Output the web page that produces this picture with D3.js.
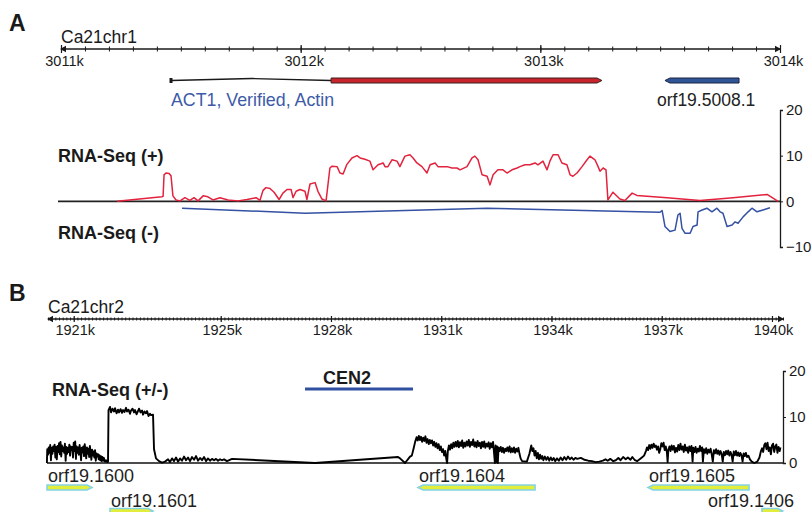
<!DOCTYPE html>
<html><head><meta charset="utf-8">
<script src="https://cdn.jsdelivr.net/npm/d3@7"></script>
<style>
body{margin:0;background:#fff}
svg{display:block;font-family:"Liberation Sans",Arial,Helvetica,sans-serif}
</style></head><body>
<svg id="c" width="812" height="512"></svg>
<script>
// ---------------- Panel A data ----------------
const chromA = "Ca21chr1";
const domainA = [3011000, 3014000];
const majorTicksA = [3011000, 3012000, 3013000, 3014000];
const yTicksA = [-10, 0, 10, 20];
const act1 = {name: "ACT1, Verified, Actin", capStart: 3011459, intronPeak: 3011797, exonStart: 3012127, exonEnd: 3013257};
const orf5008 = {name: "orf19.5008.1", start: 3013520, end: 3013829};
// RNA-Seq (+) coverage: [position bp, value]
const rnaPlus = [[3011234,0],[3011421,1.0],[3011426,1.1],[3011430,5.8],[3011438,6.2],[3011451,6.1],[3011459,5.6],[3011467,1.2],[3011480,0.3],[3011497,0.1],[3011517,0.8],[3011538,0.2],[3011555,0.8],[3011572,0.1],[3011593,1.2],[3011613,1.0],[3011634,0.3],[3011663,0.8],[3011697,0.3],[3011739,0.1],[3011776,0.4],[3011814,0.8],[3011830,0.2],[3011843,2.4],[3011855,3.0],[3011872,2.8],[3011889,2.0],[3011910,0.4],[3011926,1.8],[3011943,2.6],[3011960,2.6],[3011968,0.8],[3011981,2.2],[3011997,2.6],[3012018,2.2],[3012026,0.4],[3012039,3.8],[3012060,4.1],[3012072,2.2],[3012089,0.5],[3012106,0.1],[3012122,7.3],[3012131,7.7],[3012152,7.6],[3012164,6.2],[3012177,6.0],[3012193,8.1],[3012214,9.5],[3012235,10.0],[3012248,9.5],[3012268,9.2],[3012289,8.8],[3012302,6.9],[3012323,8.0],[3012344,8.4],[3012352,7.6],[3012364,7.6],[3012381,9.1],[3012402,8.8],[3012414,7.6],[3012435,9.9],[3012456,10.2],[3012469,9.5],[3012485,8.4],[3012506,7.6],[3012527,6.2],[3012540,8.0],[3012561,8.4],[3012573,7.6],[3012611,7.6],[3012631,7.3],[3012652,7.3],[3012665,6.9],[3012694,7.6],[3012715,9.5],[3012727,9.9],[3012740,9.1],[3012757,5.8],[3012778,5.5],[3012790,3.6],[3012803,5.8],[3012823,6.9],[3012844,6.9],[3012861,6.2],[3012882,6.9],[3012903,7.3],[3012915,7.6],[3012936,8.0],[3012957,8.0],[3012978,8.4],[3012990,8.0],[3013011,8.8],[3013028,6.9],[3013040,8.8],[3013053,10.2],[3013074,10.2],[3013090,8.4],[3013111,8.0],[3013124,5.8],[3013136,5.5],[3013153,6.2],[3013174,7.6],[3013195,9.1],[3013207,9.9],[3013228,9.1],[3013241,7.6],[3013249,6.6],[3013262,7.3],[3013274,6.9],[3013282,0.3],[3013303,2.0],[3013332,0.5],[3013353,0.2],[3013383,1.8],[3013403,1.3],[3013529,0.8],[3013666,0.2],[3013804,0.8],[3013946,1.5],[3013971,0.7],[3013992,0.0]];
// RNA-Seq (-) coverage
const rnaMinus = [[3011505,-1.5],[3012018,-2.6],[3012778,-1.5],[3013499,-2.4],[3013508,-2.0],[3013520,-5.5],[3013541,-6.6],[3013562,-6.3],[3013574,-3.0],[3013583,-2.6],[3013591,-5.9],[3013604,-7.0],[3013625,-7.0],[3013637,-5.5],[3013654,-5.2],[3013658,-2.3],[3013675,-1.9],[3013695,-1.5],[3013716,-2.3],[3013737,-1.5],[3013750,-2.3],[3013762,-2.6],[3013779,-5.5],[3013800,-5.2],[3013812,-4.5],[3013825,-4.8],[3013846,-3.4],[3013867,-2.3],[3013883,-1.5],[3013904,-2.3],[3013929,-1.9],[3013958,-1.4]];

// ---------------- Panel B data (positions in kb) ----------------
const chromB = "Ca21chr2";
const domainB = [1920.3, 1940.3];
const majorTicksB = [1921, 1925, 1928, 1931, 1934, 1937, 1940];
const yTicksB = [0, 10, 20];
const cen2 = {name: "CEN2", start: 1927.294, end: 1930.233};
const genesB = [
  {name: "orf19.1600", start: 1920.274, end: 1921.498, strand: "+", row: 0},
  {name: "orf19.1601", start: 1921.988, end: 1923.158, strand: "+", row: 1},
  {name: "orf19.1604", start: 1930.369, end: 1933.553, strand: "-", row: 0},
  {name: "orf19.1605", start: 1936.627, end: 1939.376, strand: "-", row: 0},
  {name: "orf19.1406", start: 1939.729, end: 1940.290, strand: "+", row: 1}
];
// RNA-Seq (+/-) coverage: [position kb, value]
const rnaBoth = [[1920.27,0],[1920.28,3.0],[1920.30,1.8],[1920.32,3.4],[1920.34,2.2],[1920.36,3.9],[1920.38,0.6],[1920.40,3.3],[1920.42,2.0],[1920.44,3.6],[1920.46,2.6],[1920.48,4.0],[1920.50,1.2],[1920.52,3.5],[1920.54,0.8],[1920.56,3.7],[1920.58,2.4],[1920.60,4.3],[1920.62,1.9],[1920.64,4.6],[1920.66,1.4],[1920.68,3.8],[1920.70,2.6],[1920.72,3.4],[1920.74,2.2],[1920.76,4.2],[1920.78,0.5],[1920.80,3.5],[1920.82,2.0],[1920.84,3.3],[1920.86,2.4],[1920.88,4.0],[1920.90,1.6],[1920.92,3.6],[1920.94,2.8],[1920.96,3.5],[1920.98,1.2],[1921.00,4.4],[1921.02,2.6],[1921.04,4.7],[1921.06,0.9],[1921.08,3.6],[1921.10,2.2],[1921.12,3.4],[1921.14,1.8],[1921.16,3.9],[1921.18,2.6],[1921.20,0.6],[1921.22,3.3],[1921.24,2.3],[1921.26,3.6],[1921.28,1.5],[1921.30,4.1],[1921.32,2.5],[1921.34,1.0],[1921.36,3.4],[1921.38,2.0],[1921.40,3.1],[1921.42,1.3],[1921.44,3.7],[1921.46,2.2],[1921.48,0.7],[1921.50,2.9],[1921.52,1.6],[1921.54,2.5],[1921.56,1.2],[1921.58,2.8],[1921.60,0.5],[1921.62,2.1],[1921.64,1.4],[1921.66,1.9],[1921.68,0.8],[1921.70,1.7],[1921.72,0.6],[1921.74,1.5],[1921.76,0.4],[1921.78,1.3],[1921.80,0.5],[1921.82,1.1],[1921.85,0.3],[1921.88,0.6],[1921.91,0.2],
[1921.933,0.3],[1921.947,11.5],[1921.988,12.2],[1922.015,11.0],[1922.056,11.8],[1922.097,11.2],[1922.124,11.9],[1922.165,10.8],[1922.205,11.6],[1922.233,11.0],[1922.274,11.7],[1922.314,10.9],[1922.342,11.5],[1922.382,11.1],[1922.423,12.0],[1922.450,11.2],[1922.491,11.6],[1922.532,10.7],[1922.559,11.4],[1922.600,11.8],[1922.641,11.0],[1922.668,11.5],[1922.709,10.6],[1922.750,11.3],[1922.777,11.8],[1922.818,11.0],[1922.859,11.4],[1922.886,10.5],[1922.927,11.2],[1922.967,10.8],[1922.995,11.3],[1923.035,10.2],[1923.076,10.7],[1923.103,10.4],[1923.158,10.5],[1923.185,3.0],[1923.239,1.0],[1923.321,0.4],[1923.403,0.1],
[1923.484,0.3],[1923.566,0.8],[1923.620,0.2],[1923.675,1.0],[1923.729,0.4],[1923.784,1.2],[1923.838,0.3],[1923.893,1.0],[1923.947,0.5],[1924.001,1.4],[1924.056,0.6],[1924.110,1.2],[1924.165,0.4],[1924.219,1.3],[1924.274,0.7],[1924.328,1.5],[1924.382,0.5],[1924.437,1.1],[1924.491,0.6],[1924.546,1.3],[1924.600,0.4],[1924.654,1.0],[1924.709,0.5],[1924.763,0.9],[1924.818,0.6],[1924.872,0.9],[1924.927,0.5],[1924.981,0.8],[1925.035,0.6],[1925.090,0.8],[1925.171,0.4],
[1925.307,0.9],[1927.566,0.0],[1929.825,1.3],[1929.879,1.0],[1930.015,0.0],[1930.151,1.4],
[1930.20,1.6],[1930.25,3.2],[1930.29,4.6],[1930.33,5.6],[1930.36,4.9],[1930.39,5.9],[1930.42,5.0],[1930.45,5.7],[1930.48,4.6],[1930.51,5.5],[1930.54,4.8],[1930.57,5.8],[1930.60,4.4],[1930.63,5.2],[1930.66,4.1],[1930.69,5.0],[1930.72,4.3],[1930.75,4.9],[1930.78,3.8],[1930.81,4.6],[1930.84,3.5],[1930.87,4.3],[1930.90,3.2],[1930.93,4.1],[1930.96,2.8],[1930.99,3.6],[1931.02,2.4],[1931.05,3.0],[1931.08,1.6],[1931.11,2.6],[1931.14,0.8],[1931.16,0.0],[1931.18,2.6],[1931.21,3.8],[1931.24,2.9],[1931.27,4.1],[1931.30,3.2],[1931.33,4.4],[1931.36,3.5],[1931.39,4.6],[1931.42,3.6],[1931.45,4.8],[1931.48,3.4],[1931.51,4.5],[1931.54,3.7],[1931.57,4.9],[1931.60,3.3],[1931.63,4.4],[1931.66,3.6],[1931.69,4.7],[1931.72,3.8],[1931.75,5.0],[1931.78,3.5],[1931.81,4.6],[1931.84,3.9],[1931.87,5.1],[1931.90,3.6],[1931.93,4.5],[1931.96,3.4],[1931.99,4.8],[1932.02,3.7],[1932.05,4.4],[1932.08,3.2],[1932.11,4.6],[1932.14,3.5],[1932.17,4.7],[1932.20,3.3],[1932.23,4.2],[1932.26,3.6],[1932.29,4.5],[1932.32,3.1],[1932.35,4.3],[1932.38,3.4],[1932.41,4.6],[1932.44,2.0],[1932.46,0.0],[1932.48,3.8],[1932.50,0.2],[1932.52,3.6],[1932.54,0.0],[1932.56,3.4],[1932.59,2.6],[1932.62,3.5],[1932.65,2.4],[1932.68,3.3],[1932.71,2.2],[1932.74,3.1],[1932.77,2.6],[1932.80,3.4],[1932.83,2.5],[1932.86,3.6],[1932.89,2.3],[1932.92,3.2],[1932.95,2.4],[1932.98,3.4],[1933.01,2.2],[1933.04,3.1],[1933.07,2.5],[1933.10,3.3],[1933.13,2.0],[1933.16,1.0],[1933.20,0.4],[1933.33,0.3],[1933.40,2.0],[1933.45,3.8],[1933.48,2.6],[1933.51,3.2],[1933.54,1.6],[1933.57,2.6],[1933.60,1.0],[1933.63,2.2],[1933.66,0.8],[1933.69,1.8],[1933.72,0.9],[1933.75,1.5],[1933.78,0.6],[1933.82,1.4],[1933.86,0.7],[1933.90,1.3],[1933.94,0.5],[1933.98,1.2],[1934.02,0.6],[1934.06,1.1],[1934.10,0.4],[1934.15,1.0],[1934.20,0.5],[1934.25,1.2],[1934.30,0.6],[1934.35,1.3],[1934.40,0.7],[1934.45,1.4],[1934.50,0.8],[1934.55,1.2],[1934.60,0.7],[1934.65,1.1],[1934.70,0.9],[1934.80,1.1],[1934.90,0.7],[1935.00,0.5],[1935.10,0.4],[1935.20,0.2],[1935.30,0.3],[1935.40,0.5],[1935.47,0.8],[1935.53,0.5],[1935.60,0.9],[1935.68,0.4],[1935.75,0.6],[1935.82,1.1],[1935.88,0.6],[1935.95,1.3],[1936.02,0.8],[1936.08,1.2],[1936.15,0.7],[1936.20,1.3],[1936.27,0.6],[1936.33,0.4],[1936.40,0.8],[1936.46,1.2],[1936.52,1.6],[1936.57,2.6],[1936.60,3.4],[1936.63,2.8],[1936.66,3.9],[1936.69,3.1],[1936.72,4.0],[1936.75,3.3],[1936.78,4.2],[1936.81,3.5],[1936.84,3.8],[1936.87,2.9],[1936.90,3.6],[1936.93,2.2],[1936.96,3.0],[1936.99,4.3],[1937.02,3.6],[1937.05,4.4],[1937.08,2.8],[1937.11,3.6],[1937.14,2.4],[1937.16,0.2],[1937.18,2.8],[1937.21,3.6],[1937.24,2.6],[1937.27,3.8],[1937.30,2.9],[1937.33,3.7],[1937.36,2.3],[1937.39,3.3],[1937.42,2.5],[1937.45,3.9],[1937.48,2.8],[1937.51,4.2],[1937.54,2.9],[1937.57,3.6],[1937.60,2.4],[1937.63,4.0],[1937.66,2.7],[1937.69,3.4],[1937.72,2.2],[1937.75,3.6],[1937.78,2.6],[1937.81,3.7],[1937.84,0.3],[1937.86,3.3],[1937.89,2.4],[1937.92,3.5],[1937.95,2.2],[1937.98,3.1],[1938.01,2.5],[1938.04,3.7],[1938.07,2.6],[1938.10,3.4],[1938.12,0.3],[1938.15,3.0],[1938.18,2.2],[1938.21,3.2],[1938.24,2.0],[1938.27,2.9],[1938.30,2.3],[1938.33,3.1],[1938.36,1.9],[1938.39,0.3],[1938.42,2.8],[1938.45,2.1],[1938.48,3.0],[1938.51,2.0],[1938.54,2.7],[1938.57,1.8],[1938.60,2.6],[1938.63,2.0],[1938.66,0.3],[1938.69,2.4],[1938.72,1.7],[1938.75,2.6],[1938.78,1.9],[1938.81,2.7],[1938.84,1.6],[1938.87,2.4],[1938.90,1.8],[1938.93,0.3],[1938.96,2.5],[1938.99,1.7],[1939.02,2.6],[1939.05,1.6],[1939.08,2.3],[1939.11,1.5],[1939.14,2.2],[1939.17,1.7],[1939.20,0.3],[1939.23,2.1],[1939.26,1.5],[1939.29,2.2],[1939.32,1.3],[1939.36,1.6],[1939.40,0.8],[1939.45,0.3],[1939.52,0.0],[1939.60,0.3],[1939.66,1.2],[1939.70,2.6],[1939.73,3.2],[1939.76,2.4],[1939.79,3.9],[1939.82,4.3],[1939.85,3.0],[1939.88,4.4],[1939.91,2.6],[1939.94,3.4],[1939.97,1.9],[1940.00,3.8],[1940.03,4.2],[1940.06,2.4],[1940.09,3.6],[1940.12,4.0],[1940.15,2.2],[1940.18,3.5],[1940.21,2.6],[1940.23,3.4]];

// ---------------- drawing ----------------
const svg = d3.select("#c");
const INK = "#1a1a1a";
const FONT = "Liberation Sans, Arial, sans-serif";

function ruler(x, y0, majors, minorStep, fmt, majLen, minLen, labelY, labelDx) {
  const [d0, d1] = x.domain();
  const minors = d3.range(Math.ceil(d0 / minorStep - 1e-6) * minorStep, d1 + minorStep / 2, minorStep);
  const [r0, r1] = x.range();
  svg.append("line").attr("x1", r0).attr("x2", r1).attr("y1", y0).attr("y2", y0)
    .attr("stroke", INK).attr("stroke-width", 1.3);
  svg.append("g").attr("transform", `translate(0,${y0 - minLen / 2})`)
    .call(d3.axisBottom(x).tickValues(minors).tickSize(minLen).tickSizeOuter(0).tickFormat(""))
    .call(g => { g.select(".domain").remove(); g.selectAll(".tick line").attr("stroke", INK).attr("stroke-width", 1); });
  const gM = svg.append("g").attr("transform", `translate(0,${y0 - majLen / 2})`)
    .call(d3.axisBottom(x).tickValues(majors).tickSize(majLen).tickSizeOuter(0).tickFormat(fmt))
    .call(g => { g.select(".domain").remove(); g.selectAll(".tick line").attr("stroke", INK).attr("stroke-width", 1.2); });
  gM.selectAll(".tick text").attr("y", labelY - (y0 - majLen / 2)).attr("dy", 0).attr("dx", labelDx)
    .attr("fill", INK).style("font-size", "14.5px").style("font-family", FONT);
  svg.append("path").attr("d", `M${r0 - 1},${y0} l6,-3.2 v6.4 z`).attr("fill", INK);
  svg.append("path").attr("d", `M${r1 + 1},${y0} l-6,-3.2 v6.4 z`).attr("fill", INK);
}

function arrowPath(x0, x1, yc, h, dir, tip) {
  const t = h / 2;
  if (dir === "+") return `M${x0},${yc - t} L${x1 - tip},${yc - t} L${x1},${yc} L${x1 - tip},${yc + t} L${x0},${yc + t} Z`;
  return `M${x1},${yc - t} L${x0 + tip},${yc - t} L${x0},${yc} L${x0 + tip},${yc + t} L${x1},${yc + t} Z`;
}

function styleYAxis(g) {
  g.select(".domain").attr("stroke", INK).attr("stroke-width", 1.3);
  g.selectAll(".tick line").attr("stroke", INK);
  g.selectAll(".tick text").attr("fill", INK).style("font-size", "15px").style("font-family", FONT);
}

// ---- Panel A ----
const xA = d3.scaleLinear().domain(domainA).range([61, 780]);
const yA = d3.scaleLinear().domain([-10, 20]).range([247, 110]);
svg.append("text").attr("x", 9).attr("y", 31).text("A").style("font-weight", "bold").style("font-size", "23px").attr("fill", INK);
svg.append("text").attr("x", 61).attr("y", 43).text(chromA).style("font-size", "17.5px").attr("fill", INK);
ruler(xA, 49, majorTicksA, 100, d => (d / 1000) + "k", 8, 5, 66, 3);

const gy = 80.5;
svg.append("rect").attr("x", xA(act1.capStart) - 1.5).attr("y", gy - 2.5).attr("width", 3).attr("height", 5).attr("fill", INK);
svg.append("path").attr("d", d3.line()([[xA(act1.capStart), gy], [xA(act1.intronPeak), gy - 2], [xA(act1.exonStart), gy]]))
  .attr("fill", "none").attr("stroke", INK).attr("stroke-width", 1.3);
svg.append("path").attr("d", arrowPath(xA(act1.exonStart), xA(act1.exonEnd), gy, 5, "+", 5))
  .attr("fill", "#c9232b").attr("stroke", "#3a2020").attr("stroke-width", 1);
svg.append("text").attr("x", xA(act1.capStart)).attr("y", 106).text(act1.name).style("font-size", "17.8px").attr("fill", "#3d5aa8");
svg.append("path").attr("d", arrowPath(xA(orf5008.start), xA(orf5008.end), gy, 5, "-", 5))
  .attr("fill", "#2f5597").attr("stroke", "#1c2340").attr("stroke-width", 1);
svg.append("text").attr("x", xA(orf5008.start) - 8).attr("y", 106).text(orf5008.name).style("font-size", "17.5px").attr("fill", "#222");

svg.append("line").attr("x1", 58).attr("x2", 780).attr("y1", yA(0)).attr("y2", yA(0)).attr("stroke", "#222").attr("stroke-width", 1.6);
svg.append("g").attr("transform", "translate(780,0)")
  .call(d3.axisRight(yA).tickValues(yTicksA).tickSize(3).tickSizeOuter(3).tickPadding(3))
  .call(styleYAxis);

svg.append("text").attr("x", 58).attr("y", 162).text("RNA-Seq (+)").style("font-weight", "bold").style("font-size", "18px").attr("fill", INK);
svg.append("text").attr("x", 58).attr("y", 239).text("RNA-Seq (-)").style("font-weight", "bold").style("font-size", "18px").attr("fill", INK);

const lineA = d3.line().x(d => xA(d[0])).y(d => yA(d[1]));
svg.append("path").attr("d", lineA(rnaPlus)).attr("fill", "none").attr("stroke", "#e3223e").attr("stroke-width", 1.5).attr("stroke-linejoin", "round");
svg.append("path").attr("d", lineA(rnaMinus)).attr("fill", "none").attr("stroke", "#3451a3").attr("stroke-width", 1.5).attr("stroke-linejoin", "round");

// ---- Panel B ----
const xB = d3.scaleLinear().domain(domainB).range([48, 783]);
const yB = d3.scaleLinear().domain([0, 20]).range([463, 371]);
svg.append("text").attr("x", 9).attr("y", 301).text("B").style("font-weight", "bold").style("font-size", "23px").attr("fill", INK);
svg.append("text").attr("x", 48).attr("y", 313).text(chromB).style("font-size", "17.5px").attr("fill", INK);
ruler(xB, 319, majorTicksB, 0.1, d => d + "k", 6, 3, 335, 1);

svg.append("text").attr("x", 52).attr("y", 396).text("RNA-Seq (+/-)").style("font-weight", "bold").style("font-size", "18px").attr("fill", INK);
svg.append("line").attr("x1", xB(cen2.start)).attr("x2", xB(cen2.end)).attr("y1", 389).attr("y2", 389).attr("stroke", "#2f4fa0").attr("stroke-width", 3);
svg.append("text").attr("x", xB(cen2.start) + 18).attr("y", 384).text(cen2.name).style("font-weight", "bold").style("font-size", "18px").attr("fill", INK);

svg.append("line").attr("x1", 47).attr("x2", 783).attr("y1", yB(0)).attr("y2", yB(0)).attr("stroke", "#111").attr("stroke-width", 1.6);
svg.append("g").attr("transform", "translate(783,0)")
  .call(d3.axisRight(yB).tickValues(yTicksB).tickSize(3).tickSizeOuter(3).tickPadding(3))
  .call(styleYAxis);

const lineB = d3.line().x(d => xB(d[0])).y(d => yB(d[1]));
svg.append("path").attr("d", lineB(rnaBoth)).attr("fill", "none").attr("stroke", "#000").attr("stroke-width", 1.9).attr("stroke-linejoin", "round");

const rowArrowY = [487.5, 511];
const rowLabelY = [482, 507];
genesB.forEach(g => {
  const x0 = xB(g.start), x1 = xB(g.end);
  svg.append("path").attr("d", arrowPath(x0, x1, rowArrowY[g.row], 5, g.strand, 5))
    .attr("fill", "#e3ee3c").attr("stroke", "#84d2e6").attr("stroke-width", 1.6);
  const t = svg.append("text").attr("y", rowLabelY[g.row]).text(g.name).style("font-size", "18px").attr("fill", "#1e1e1e");
  const w = t.node().getComputedTextLength();
  t.attr("x", Math.min(x0 + 1, 794 - w));
});
</script>
</body></html>
